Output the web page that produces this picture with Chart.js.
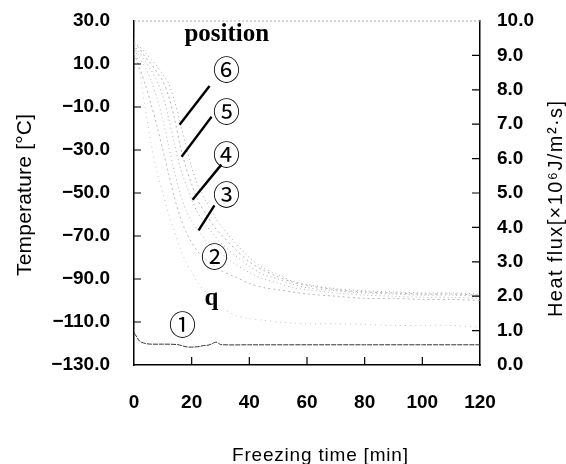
<!DOCTYPE html>
<html>
<head>
<meta charset="utf-8">
<script src="https://cdn.jsdelivr.net/npm/chart.js@4.4.1/dist/chart.umd.min.js"></script>
<style>
  html, body { margin: 0; padding: 0; background: #fff; }
  #wrap { width: 566px; height: 464px; }
</style>
</head>
<body>
<div id="wrap"><canvas id="chart" width="566" height="464"></canvas></div>
<script>
// Zaman ekseni (dakika)
const times = [0, 2, 4, 6, 8, 10, 12, 14, 16, 18, 20, 22, 25, 28, 30, 35, 40, 45, 50, 55, 60, 70, 80, 90, 100, 110, 120];

// Sıcaklık eğrileri, pozisyon ②..⑥ (°C)
const pos6 = [20, 18, 15, 12, 9, 5, 1, -7, -17, -28, -38, -46, -54, -61, -65, -73, -80, -85, -88, -91, -92.5, -94.5, -95.5, -96, -96.5, -96.5, -97];
const pos5 = [20, 17, 13, 10, 6, 2, -5, -15, -28, -38, -46, -53, -60, -66, -69, -76, -82, -86, -89, -91.5, -93, -95, -96, -96.5, -97, -97, -97.5];
const pos4 = [19, 15, 11, 7, 2, -5, -15, -27, -38, -46, -53, -59, -65, -70, -73, -79, -84, -88, -90, -92.5, -94, -95.5, -96.5, -97, -97.5, -97.5, -98];
const pos3 = [18, 13, 8, 2, -6, -16, -28, -40, -50, -58, -63, -67, -72, -76, -78, -83, -87, -90, -92, -94, -95, -96.5, -97.5, -98, -98.5, -98.5, -99];
const pos2 = [15, 8, 0, -9, -19, -30, -41, -52, -61, -68, -73, -77, -81, -84, -86, -89, -92, -94, -95, -96, -97, -98, -99, -99, -99.5, -99.5, -100];

// Isı akısı q (x10^6 J/m2·s)
const heatFlux = [9.5, 8.5, 7.4, 6.4, 5.6, 5.0, 4.4, 3.9, 3.4, 3.0, 2.7, 2.4, 2.1, 1.85, 1.7, 1.45, 1.35, 1.3, 1.25, 1.22, 1.2, 1.2, 1.18, 1.15, 1.15, 1.15, 1.1];

// Pozisyon ① (yüzey) sıcaklığı
const pos1Times = [0, 1, 2, 4, 6, 10, 15, 18, 20, 22, 24, 26, 28, 29, 30, 40, 60, 80, 100, 120];
const pos1 = [-115, -117, -119, -120, -120.3, -120.3, -120.5, -121.5, -121.7, -121.5, -121, -120.7, -119.5, -119.5, -120.5, -120.6, -120.6, -120.6, -120.6, -120.6];

// Eksen etiketleri
const xTicks = [0, 20, 40, 60, 80, 100, 120];
const tempTicks = [-130, -110, -90, -70, -50, -30, -10, 10, 30];
const fluxTicks = [0, 1, 2, 3, 4, 5, 6, 7, 8, 9, 10];

// Açıklamalar (veri koordinatlarında)
const labels = [
    { text: 'position', t: 32.2, v: 23.5, font: 'bold 25px "Liberation Serif"' },
    { text: '⑥', t: 32.1, v: 7.3 },
    { text: '⑤', t: 32.1, v: -12.2 },
    { text: '④', t: 32.1, v: -32.2 },
    { text: '③', t: 32.1, v: -50.7 },
    { text: '②', t: 27.9, v: -79.5 },
    { text: 'q', t: 26.9, v: -99, font: 'bold 25px "Liberation Serif"' },
    { text: '①', t: 16.8, v: -111.5 },
];
const leaders = [
    [26.2, -0.2, 15.8, -18.3],
    [26.9, -14.5, 16.5, -33.1],
    [30.3, -36.8, 20.3, -53.1],
    [27.9, -55.8, 22.4, -67.4],
];

// Eksen başlıkları
const xTitle = 'Freezing time [min]';
const yTitle = 'Temperature [°C]';
const y1Title = 'Heat flux[×10⁶J/m²·s]';

const toPoints = (xs, ys) => xs.map((x, i) => ({ x: x, y: ys[i] }));
const fmt = v => v.toFixed(1).replace('-', '\u2212');

function curve(data, color, dash, axis) {
    return {
        data: data,
        yAxisID: axis || 'y',
        borderColor: color,
        borderWidth: 1,
        borderDash: dash,
        pointRadius: 0,
        tension: 0.3,
        fill: false,
    };
}

// Metni verilen uzunluğa yayarak çiz
function spreadText(ctx, text, x, y, target, angle) {
    ctx.save();
    ctx.translate(x, y);
    ctx.rotate(angle);
    ctx.letterSpacing = '0px';
    const w = ctx.measureText(text).width;
    const sp = (target - w) / Math.max(1, text.length - 1);
    ctx.letterSpacing = sp + 'px';
    ctx.textAlign = 'left';
    ctx.textBaseline = 'middle';
    ctx.fillText(text, -target / 2, 0);
    ctx.restore();
}

// Eksen tik etiket boşluklarını sıfırla (üst kenar için)
const noPad = s => { s.width = s.position === 'left' ? 134 : 86; s.paddingTop = 0; s.paddingBottom = 0; };

// İçe bakan tik çizgileri + çerçeve üst kenarı + başlıklar
const frameTicks = {
    id: 'frameTicks',
    afterDatasetsDraw(chart) {
        const ctx = chart.ctx;
        const a = chart.chartArea;
        const sx = chart.scales.x, sy = chart.scales.y, sy1 = chart.scales.y1;
        ctx.save();
        ctx.strokeStyle = '#000';
        ctx.lineWidth = 1.2;
        ctx.beginPath();
        xTicks.slice(1, -1).forEach(t => {
            const px = sx.getPixelForValue(t);
            ctx.moveTo(px, a.bottom);
            ctx.lineTo(px, a.bottom - 8);
        });
        tempTicks.slice(1, -1).forEach(t => {
            const py = sy.getPixelForValue(t);
            ctx.moveTo(a.left, py);
            ctx.lineTo(a.left + 7, py);
        });
        fluxTicks.slice(1, -1).forEach(t => {
            const py = sy1.getPixelForValue(t);
            ctx.moveTo(a.right, py);
            ctx.lineTo(a.right - 8, py);
        });
        ctx.stroke();

        ctx.strokeStyle = '#aaa';
        ctx.lineWidth = 1;
        ctx.setLineDash([2, 2]);
        ctx.beginPath();
        ctx.moveTo(a.left, a.top);
        ctx.lineTo(a.right, a.top);
        ctx.stroke();
        ctx.setLineDash([]);

        ctx.fillStyle = '#000';
        ctx.font = '19px "Liberation Sans"';
        spreadText(ctx, xTitle, 320, 456, 176, 0);
        ctx.font = '21px "Liberation Sans"';
        spreadText(ctx, yTitle, 25, 195, 162, -Math.PI / 2);
        ctx.font = '20px "Liberation Sans"';
        spreadText(ctx, y1Title, 556, 209, 216, -Math.PI / 2);
        ctx.restore();
    }
};

// Pozisyon etiketleri ve işaret çizgileri
const annotations = {
    id: 'annotations',
    afterDatasetsDraw(chart) {
        const ctx = chart.ctx;
        const sx = chart.scales.x, sy = chart.scales.y;
        ctx.save();
        ctx.strokeStyle = '#000';
        ctx.lineWidth = 2.4;
        leaders.forEach(l => {
            ctx.beginPath();
            ctx.moveTo(sx.getPixelForValue(l[0]), sy.getPixelForValue(l[1]));
            ctx.lineTo(sx.getPixelForValue(l[2]), sy.getPixelForValue(l[3]));
            ctx.stroke();
        });
        ctx.fillStyle = '#000';
        ctx.textAlign = 'center';
        ctx.textBaseline = 'middle';
        labels.forEach(lb => {
            ctx.font = lb.font || '27px "Noto Sans CJK JP"';
            ctx.fillText(lb.text, sx.getPixelForValue(lb.t), sy.getPixelForValue(lb.v));
        });
        ctx.restore();
    }
};

const ctx = document.getElementById('chart').getContext('2d');

new Chart(ctx, {
    type: 'line',
    data: {
        datasets: [
            curve(toPoints(times, pos6), '#a8a8a8', [1, 3]),
            curve(toPoints(times, pos5), '#b4b4b4', [2, 3]),
            curve(toPoints(times, pos4), '#a8a8a8', [1, 3]),
            curve(toPoints(times, pos3), '#b4b4b4', [1, 3]),
            curve(toPoints(times, pos2), '#b8b8b8', [2, 3]),
            curve(toPoints(times, heatFlux), '#c4c4c4', [1, 4], 'y1'),
            curve(toPoints(pos1Times, pos1), '#333', [5, 1]),
        ],
    },
    options: {
        responsive: false,
        animation: false,
        maintainAspectRatio: false,
        layout: { padding: { top: 21, left: 0, right: 0, bottom: 0 } },
        plugins: {
            legend: { display: false },
            tooltip: { enabled: false },
        },
        scales: {
            x: {
                type: 'linear',
                min: 0,
                max: 120,
                afterFit: s => { s.height = 99; },
                afterBuildTicks: s => { s.ticks = xTicks.map(v => ({ value: v })); },
                grid: { display: false, drawTicks: false },
                border: { display: true, color: '#000', width: 1.5 },
                ticks: {
                    padding: 26,
                    color: '#000',
                    font: { family: 'Liberation Sans', size: 19, weight: 'bold' },
                    maxRotation: 0,
                },
            },
            y: {
                position: 'left',
                min: -130,
                max: 30,
                afterFit: noPad,
                afterBuildTicks: s => { s.ticks = tempTicks.map(v => ({ value: v })); },
                grid: { display: false, drawTicks: false },
                border: { display: true, color: '#000', width: 1.5 },
                ticks: {
                    padding: 24,
                    color: '#000',
                    callback: v => fmt(v),
                    font: { family: 'Liberation Sans', size: 19, weight: 'bold' },
                },
            },
            y1: {
                position: 'right',
                min: 0,
                max: 10,
                afterFit: noPad,
                afterBuildTicks: s => { s.ticks = fluxTicks.map(v => ({ value: v })); },
                grid: { display: false, drawTicks: false },
                border: { display: true, color: '#000', width: 1.5 },
                ticks: {
                    padding: 17,
                    color: '#000',
                    callback: v => fmt(v),
                    font: { family: 'Liberation Sans', size: 19, weight: 'bold' },
                },
            },
        },
    },
    plugins: [frameTicks, annotations],
});
</script>
</body>
</html>
